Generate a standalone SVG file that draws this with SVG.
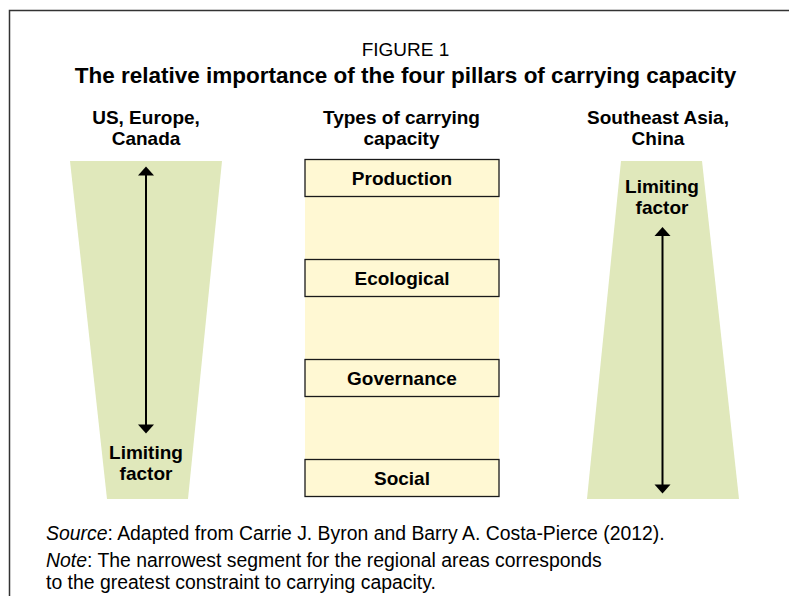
<svg xmlns="http://www.w3.org/2000/svg" width="789" height="596" viewBox="0 0 789 596">
<style>
  .t { font-family: "Liberation Sans", Arial, sans-serif; fill: #000; }
  .b { font-weight: bold; font-size: 19px; text-anchor: middle; }
  .r { font-size: 19.4px; }
  .trap { fill: #E0E8BB; }
  .box { fill: #FFF8D3; stroke: #1a1a1a; stroke-width: 1.3; }
  .arr { stroke: #000; stroke-width: 2; fill: none; }
  .head { fill: #000; }
  .frame { stroke: #333; stroke-width: 1.5; fill: none; }
</style>
<rect width="789" height="596" fill="#fff"/>
<path class="frame" d="M9.5 596 V10.5 H789"/>
<text class="t" x="405.5" y="56" font-size="19" text-anchor="middle">FIGURE 1</text>
<text class="t" x="405.5" y="83" font-size="22.5" font-weight="bold" text-anchor="middle">The relative importance of the four pillars of carrying capacity</text>

<g id="left-header">
  <text class="t b" x="146" y="124">US, Europe,</text>
  <text class="t b" x="146" y="145">Canada</text>
</g>
<g id="center-header">
  <text class="t b" x="401.5" y="124">Types of carrying</text>
  <text class="t b" x="401.5" y="145">capacity</text>
</g>
<g id="right-header">
  <text class="t b" x="658" y="124">Southeast Asia,</text>
  <text class="t b" x="658" y="145">China</text>
</g>

<g id="left-pillar">
  <polygon class="trap" points="70,161 222,161 188,499 107,499"/>
  <text class="t b" x="146" y="459">Limiting</text>
  <text class="t b" x="146" y="480">factor</text>
</g>
<g id="right-pillar">
  <polygon class="trap" points="621,161 702,161 739,499 587,499"/>
  <text class="t b" x="662" y="193">Limiting</text>
  <text class="t b" x="662" y="214">factor</text>
</g>

<g id="center-column">
  <rect x="305" y="159.5" width="194" height="337" fill="#FFF8D3"/>
</g>
<g id="production">
  <rect class="box" x="305" y="159.5" width="194" height="37"/>
  <text class="t b" x="402" y="185">Production</text>
</g>
<g id="ecological">
  <rect class="box" x="305" y="259.5" width="194" height="37"/>
  <text class="t b" x="402" y="285">Ecological</text>
</g>
<g id="governance">
  <rect class="box" x="305" y="359.5" width="194" height="37"/>
  <text class="t b" x="402" y="385">Governance</text>
</g>
<g id="social">
  <rect class="box" x="305" y="459.5" width="194" height="37"/>
  <text class="t b" x="402" y="485">Social</text>
</g>

<g id="connectors">
  <line class="arr" x1="146" y1="174" x2="146" y2="426"/>
  <polygon class="head" points="146,166.5 138,175.5 154,175.5"/>
  <polygon class="head" points="146,433.5 138,424.5 154,424.5"/>
  <line class="arr" x1="662.5" y1="235" x2="662.5" y2="486"/>
  <polygon class="head" points="662.5,227 654.5,236 670.5,236"/>
  <polygon class="head" points="662.5,493.5 654.5,484.5 670.5,484.5"/>
</g>

<g id="notes">
  <text class="t r" x="46" y="540"><tspan font-style="italic">Source</tspan>: Adapted from Carrie J. Byron and Barry A. Costa-Pierce (2012).</text>
  <text class="t r" x="46" y="567"><tspan font-style="italic">Note</tspan>: The narrowest segment for the regional areas corresponds</text>
  <text class="t r" x="46" y="589">to the greatest constraint to carrying capacity.</text>
</g>
</svg>
